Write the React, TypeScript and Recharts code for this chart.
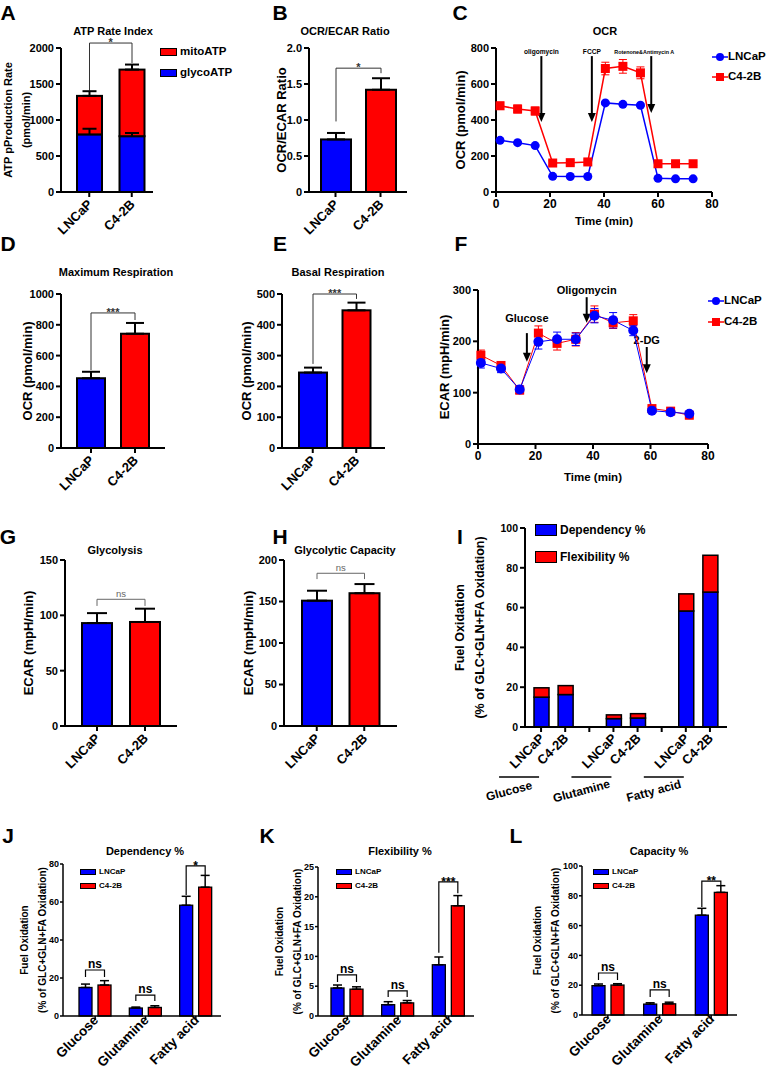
import React from 'react';
import { Bar, BarChart, Cell, ErrorBar, Legend, Line, LineChart, ReferenceLine, XAxis, YAxis } from 'recharts';

const BLUE = '#0000ff';
const RED = '#ff0000';
const FONT = '"Liberation Sans", Arial, Helvetica, sans-serif';
const AXIS = { stroke: '#000', strokeWidth: 2 };
const AXIS_THIN = { stroke: '#000', strokeWidth: 1.5 };
const YW = 80;
const TOP = 30;
const BAR_GAP = 6;

// ---- data ----
const cellLines = ['LNCaP', 'C4-2B'];

// A: ATP rate index (pmol/min)
const glycoATP = [800, 775];
const glycoATPErr = [80, 45];
const mitoATP = [535, 925];
const totalATPErr = [65, 70];
const ticksATP = [0, 500, 1000, 1500, 2000];

// B: OCR/ECAR
const ocrEcar = [0.73, 1.42];
const ocrEcarErr = [0.09, 0.16];
const ticksRatio = [0, 0.5, 1, 1.5, 2];

// D, E
const maxResp = [453, 742];
const maxRespErr = [42, 70];
const ticksMax = [0, 200, 400, 600, 800, 1000];
const basalResp = [245, 447];
const basalRespErr = [16, 25];
const ticksBasal = [0, 100, 200, 300, 400, 500];

// G, H
const glycolysis = [93, 94];
const glycolysisErr = [9, 12];
const ticksGlycolysis = [0, 50, 100, 150];
const glycoCap = [151, 160];
const glycoCapErr = [12, 11];
const ticksGlycoCap = [0, 50, 100, 150, 200];

// C: OCR time course
const ocrTime = [1.5, 8, 14.5, 21, 27.5, 34, 40.5, 47, 53.5, 60, 66.5, 73];
const ocrLNCaP = [287, 274, 258, 87, 86, 86, 495, 487, 482, 76, 73, 73];
const ocrLNCaPErr = [6, 6, 6, 4, 4, 4, 6, 6, 6, 3, 3, 3];
const ocrC42B = [479, 461, 450, 161, 163, 167, 686, 698, 662, 157, 157, 157];
const ocrC42BErr = [20, 22, 22, 12, 12, 12, 35, 38, 33, 10, 10, 10];
const ticksOCR = [0, 200, 400, 600, 800];
const ocrInjections = ['oligomycin', 'FCCP', 'Rotenone&Antimycin A'];
const ocrInjectionTimes = [16.8, 35.5, 57.5];

// F: ECAR time course
const ecarTime = [1, 8, 14.5, 21, 27.5, 34, 40.5, 47, 54, 60.5, 67, 73.5];
const ecarLNCaP = [158, 147, 106, 199, 204, 204, 250, 241, 221, 65, 62, 59];
const ecarLNCaPErr = [10, 8, 8, 14, 14, 12, 14, 15, 10, 4, 4, 4];
const ecarC42B = [173, 153, 105, 216, 196, 204, 253, 236, 240, 69, 64, 56];
const ecarC42BErr = [10, 7, 7, 14, 13, 13, 16, 11, 12, 4, 4, 4];
const ticksECAR = [0, 100, 200, 300];
const ecarInjections = ['Glucose', 'Oligomycin', '2-DG'];
const ecarInjectionTimes = [17, 37.8, 58.7];
const ticksTime = [0, 20, 40, 60, 80];

// I-L: fuel oxidation (% of GLC+GLN+FA oxidation)
const fuels = ['Glucose', 'Glutamine', 'Fatty acid'];
const depLNCaP = [15, 4.2, 58.3];
const depLNCaPErr = [1.8, 0.5, 4.7];
const depC42B = [16.3, 4.5, 67.8];
const depC42BErr = [2.3, 0.9, 6.2];
const flexLNCaP = [4.7, 1.9, 8.6];
const flexLNCaPErr = [0.5, 0.5, 1.3];
const flexC42B = [4.5, 2.2, 18.5];
const flexC42BErr = [0.4, 0.4, 1.7];
const capLNCaP = [19.7, 7.3, 67];
const capLNCaPErr = [1.1, 0.9, 4.6];
const capC42B = [20.1, 7.5, 82.3];
const capC42BErr = [0.9, 1.1, 4.5];
const depSig = ['ns', 'ns', '*'];
const flexSig = ['ns', 'ns', '***'];
const capSig = ['ns', 'ns', '**'];
const ticksFuelStack = [0, 20, 40, 60, 80, 100];
const ticksDep = [0, 20, 40, 60, 80];
const ticksFlex = [0, 5, 10, 15, 20, 25];
const ticksCap = [0, 20, 40, 60, 80, 100];

// stacked rows for panel I (gap slot between fuels)
const fuelRows = fuels.flatMap((fuel, i) => {
  const rows: any[] = [
    { key: fuel + '-L', cell: cellLines[0], group: fuel, dep: depLNCaP[i], flex: flexLNCaP[i] },
    { key: fuel + '-C', cell: cellLines[1], group: '', dep: depC42B[i], flex: flexC42B[i] },
  ];
  if (i < fuels.length - 1) rows.push({ key: 'gap' + i, cell: '', group: '', dep: null, flex: null });
  return rows;
});

type Geo = { x0: number; y0: number; x1: number; y1: number; padL?: number; padR?: number; bar?: number };

function frame(g: Geo, right: number, bottom: number) {
  return {
    left: g.x0 - YW,
    top: g.y0 - TOP,
    width: g.x1 - g.x0 + YW + right,
    height: g.y1 - g.y0 + TOP + bottom,
  };
}

function Txt({ x, y, size, weight = 700, children }: any) {
  return (
    <div
      style={{
        position: 'absolute', left: x, top: y, transform: 'translate(-50%, -50%)',
        fontFamily: FONT, fontSize: size, fontWeight: weight, whiteSpace: 'nowrap', lineHeight: 1.2, color: '#000',
      }}
    >
      {children}
    </div>
  );
}

const yTick = (size: number) => ({ fill: '#000', fontSize: size, fontWeight: 700, fontFamily: FONT });

function SlantTick(p: any) {
  const { x, y, payload, size = 13, dx = 4, dy = 6 } = p;
  const tx = x + dx;
  const ty = y + dy;
  return (
    <text x={tx} y={ty} transform={`rotate(-45 ${tx} ${ty})`} textAnchor="end"
      fontFamily={FONT} fontSize={size} fontWeight={700} fill="#000">
      {payload.value}
    </text>
  );
}

function FuelTick(p: any) {
  const { x, y, payload } = p;
  const row = fuelRows.find((r) => r.key === payload.value);
  if (!row || !row.cell) return <g />;
  const tx = x + 4;
  const ty = y + 5;
  const gx = x - 32;
  const gy = y + 57;
  return (
    <g>
      <text x={tx} y={ty} transform={`rotate(-45 ${tx} ${ty})`} textAnchor="end"
        fontFamily={FONT} fontSize={13} fontWeight={700} fill="#000">{row.cell}</text>
      {row.group ? (
        <g>
          <line x1={x - 42} x2={x - 2} y1={y + 43} y2={y + 43} stroke="#000" strokeWidth={1.5} />
          <text x={gx} y={gy} transform={`rotate(-15 ${gx} ${gy})`} textAnchor="middle" dominantBaseline="central"
            fontFamily={FONT} fontSize={12} fontWeight={700} fill="#000">{row.group}</text>
        </g>
      ) : null}
    </g>
  );
}

function yTitle(lines: string[], offs: number[], size: number, plotH: number) {
  return () => {
    const cy = TOP + plotH / 2;
    return (
      <g>
        {lines.map((t, i) => (
          <text key={t} x={YW - offs[i]} y={cy} transform={`rotate(-90 ${YW - offs[i]} ${cy})`}
            textAnchor="middle" dominantBaseline="central" fontFamily={FONT} fontSize={size} fontWeight={700} fill="#000">
            {t}
          </text>
        ))}
      </g>
    );
  };
}

function drawBracket(xl: number, xr: number, yOf: (v: number) => number, b: any, st: any) {
  const yt = yOf(b.top);
  const stars = b.text.indexOf('*') >= 0;
  return (
    <g>
      <path d={`M${xl},${yOf(b.left)}V${yt}H${xr}V${yOf(b.right)}`} fill="none" stroke={st.color} strokeWidth={st.width} />
      <text x={(xl + xr) / 2} y={stars ? yt + st.size * 0.3 : yt - 2} textAnchor="middle"
        fontFamily={FONT} fontSize={st.size} fontWeight={st.weight} fill={st.color}>{b.text}</text>
    </g>
  );
}

function boxLegend(x: number, y: number, f: any, items: string[][], o: any) {
  return (
    <Legend
      layout="horizontal"
      verticalAlign="middle"
      align="center"
      wrapperStyle={{ left: x - f.left, top: y - f.top - o.gap / 2, width: 'auto', height: 'auto' }}
      content={(p: any) => (
        <div>
          {items.map(([name, fallback]) => {
            const e = (p.payload || []).find((it: any) => it.value === name);
            return (
              <div key={name} style={{ display: 'flex', alignItems: 'center', height: o.gap, fontFamily: FONT, fontSize: o.size, fontWeight: 700, whiteSpace: 'nowrap', lineHeight: 1, color: '#000' }}>
                <span style={{ display: 'inline-block', width: o.bw, height: o.bh, background: e ? e.color : fallback, border: `${o.bd}px solid #000`, boxSizing: 'border-box', marginRight: 3 }} />
                {name}
              </div>
            );
          })}
        </div>
      )}
    />
  );
}

function lineLegend(x: number, y: number, f: any, gap: number) {
  return (
    <Legend
      layout="horizontal"
      verticalAlign="middle"
      align="center"
      wrapperStyle={{ left: x - f.left, top: y - f.top - gap / 2, width: 'auto', height: 'auto' }}
      content={(p: any) => (
        <div>
          {cellLines.map((name, i) => {
            const e = (p.payload || []).find((it: any) => it.value === name);
            const c = e ? e.color : i === 0 ? BLUE : RED;
            return (
              <div key={name} style={{ display: 'flex', alignItems: 'center', height: gap, fontFamily: FONT, fontSize: 11.5, fontWeight: 700, whiteSpace: 'nowrap', lineHeight: 1, color: '#000' }}>
                <svg width={16} height={10} style={{ marginRight: 0 }}>
                  <line x1={0} x2={16} y1={5} y2={5} stroke={c} strokeWidth={1.5} />
                  {i === 0 ? <circle cx={8} cy={5} r={4} fill={c} /> : <rect x={4} y={1} width={8} height={8} fill={c} />}
                </svg>
                {name}
              </div>
            );
          })}
        </div>
      )}
    />
  );
}

function TwoBarPanel({ g, values, errors, ticks, fmt, brk, st, yLines, yOffs, ySize, capW }: any) {
  const f = frame(g, 12, 60);
  const plotH = g.y1 - g.y0;
  const data = cellLines.map((name, i) => ({ name, value: values[i], err: [0, errors[i]] }));
  const pitch = (g.x1 - g.x0 - g.padL - g.padR) / 2;
  const shape = (p: any) => {
    if (!(p.height > 0)) return <g />;
    const ppu = p.height / p.payload.value;
    const zero = p.y + p.height;
    const cx = p.x + p.width / 2;
    return (
      <g>
        <rect x={p.x} y={p.y} width={p.width} height={p.height} fill={p.fill} stroke="#000" strokeWidth={2} />
        {p.payload.name === cellLines[1] ? drawBracket(cx - pitch, cx, (v) => zero - v * ppu, brk, st) : null}
      </g>
    );
  };
  return (
    <div style={{ position: 'absolute', left: f.left, top: f.top }}>
      <BarChart width={f.width} height={f.height} data={data} barSize={g.bar} margin={{ top: TOP, right: 12, bottom: 0, left: 0 }}>
        <XAxis dataKey="name" height={60} interval={0} padding={{ left: g.padL, right: g.padR }}
          axisLine={AXIS} tickLine={AXIS} tickSize={5} tick={<SlantTick size={13} />} />
        <YAxis width={YW} type="number" domain={[0, ticks[ticks.length - 1]]} ticks={ticks} tickFormatter={fmt}
          axisLine={AXIS} tickLine={AXIS} tickSize={5} tick={yTick(11)} label={yTitle(yLines, yOffs, ySize, plotH)} />
        <Bar dataKey="value" isAnimationActive={false} shape={shape}>
          {data.map((d, i) => <Cell key={d.name} fill={i === 0 ? BLUE : RED} />)}
          <ErrorBar dataKey="err" width={capW} stroke="#000" strokeWidth={2} direction="y" />
        </Bar>
      </BarChart>
    </div>
  );
}

const brkStyle = { color: '#333', width: 1, size: 11, weight: 700 };
const nsStyle = { color: '#666', width: 1, size: 9.5, weight: 400 };

function AtpPanel() {
  const g = { x0: 61, y0: 48, x1: 153, y1: 192, padL: 7, padR: 0, bar: 25 };
  const f = frame(g, 12, 60);
  const plotH = g.y1 - g.y0;
  const data = cellLines.map((name, i) => ({
    name, glyco: glycoATP[i], mito: mitoATP[i], glycoErr: glycoATPErr[i], err: [0, totalATPErr[i]],
  }));
  const pitch = (g.x1 - g.x0 - g.padL - g.padR) / 2;
  const glycoShape = (p: any) =>
    p.height > 0 ? <rect x={p.x} y={p.y} width={p.width} height={p.height} fill={p.fill} stroke="#000" strokeWidth={2} /> : <g />;
  const mitoShape = (p: any) => {
    if (!(p.height > 0)) return <g />;
    const ppu = p.height / p.payload.mito;
    const base = p.y + p.height;
    const zero = base + p.payload.glyco * ppu;
    const yOf = (v: number) => zero - v * ppu;
    const cx = p.x + p.width / 2;
    const ge = yOf(p.payload.glyco + p.payload.glycoErr);
    return (
      <g>
        <rect x={p.x} y={p.y} width={p.width} height={p.height} fill={p.fill} stroke="#000" strokeWidth={2} />
        <path d={`M${cx},${base}V${ge}M${cx - 7},${ge}H${cx + 7}`} stroke="#000" strokeWidth={2} fill="none" />
        {p.payload.name === cellLines[1]
          ? drawBracket(cx - pitch, cx, yOf, { left: 1407, right: 1792, top: 2069, text: '*' }, brkStyle)
          : null}
      </g>
    );
  };
  return (
    <div style={{ position: 'absolute', left: f.left, top: f.top }}>
      <BarChart width={f.width} height={f.height} data={data} barSize={g.bar} margin={{ top: TOP, right: 12, bottom: 0, left: 0 }}>
        <XAxis dataKey="name" height={60} interval={0} padding={{ left: g.padL, right: g.padR }}
          axisLine={AXIS} tickLine={AXIS} tickSize={5} tick={<SlantTick size={13} />} />
        <YAxis width={YW} type="number" domain={[0, 2000]} ticks={ticksATP} axisLine={AXIS} tickLine={AXIS} tickSize={5}
          tick={yTick(11)} label={yTitle(['ATP pProduction Rate', '(pmol/min)'], [53, 35], 11, plotH)} />
        <Bar dataKey="glyco" name="glycoATP" stackId="s" fill={BLUE} isAnimationActive={false} shape={glycoShape} />
        <Bar dataKey="mito" name="mitoATP" stackId="s" fill={RED} isAnimationActive={false} shape={mitoShape}>
          <ErrorBar dataKey="err" width={7} stroke="#000" strokeWidth={2} direction="y" />
        </Bar>
        {boxLegend(160, 52, f, [['mitoATP', RED], ['glycoATP', BLUE]], { gap: 21, size: 11.5, bw: 17, bh: 8, bd: 1.5 })}
      </BarChart>
    </div>
  );
}

function Arrow(p: any) {
  const { x1, y1, y2, text, size, dx = 0, gap = 2, head = 9, hw = 4 } = p;
  const top = Math.min(y1, y2);
  const bot = Math.max(y1, y2);
  return (
    <g>
      <line x1={x1} y1={top} x2={x1} y2={bot - head + 1} stroke="#000" strokeWidth={2} />
      <polygon points={`${x1 - hw},${bot - head} ${x1 + hw},${bot - head} ${x1},${bot}`} fill="#000" />
      <text x={x1 + dx} y={top - gap} textAnchor="middle" fontFamily={FONT} fontSize={size} fontWeight={700} fill="#000">{text}</text>
    </g>
  );
}

function TimePanel({ g, times, lnc, lncErr, c42, c42Err, ticks, arrows, yTitleText, yOff, legendY, legendGap, xLabelDy, lineW, dotR, sq, capW }: any) {
  const f = frame(g, 767 - g.x1, 50);
  const plotH = g.y1 - g.y0;
  const plotW = g.x1 - g.x0;
  const data = times.map((t: number, i: number) => ({ t, lnc: lnc[i], lncErr: lncErr[i], c42: c42[i], c42Err: c42Err[i] }));
  const xTitle = () => (
    <text x={YW + plotW / 2} y={TOP + plotH + xLabelDy} textAnchor="middle" dominantBaseline="central"
      fontFamily={FONT} fontSize={11.5} fontWeight={700} fill="#000">Time (min)</text>
  );
  return (
    <div style={{ position: 'absolute', left: f.left, top: f.top }}>
      <LineChart width={f.width} height={f.height} data={data} margin={{ top: TOP, right: 767 - g.x1, bottom: 0, left: 0 }}>
        <XAxis dataKey="t" type="number" domain={[0, 80]} ticks={ticksTime} height={50} axisLine={AXIS} tickLine={AXIS}
          tickSize={5} tick={yTick(12)} label={xTitle} />
        <YAxis width={YW} type="number" domain={[0, ticks[ticks.length - 1]]} ticks={ticks} axisLine={AXIS} tickLine={AXIS}
          tickSize={5} tick={yTick(11)} label={yTitle([yTitleText], [yOff], 13, plotH)} />
        {arrows.map((a: any) => (
          <ReferenceLine key={a.name} ifOverflow="visible" segment={[{ x: a.t, y: a.from }, { x: a.t, y: a.to }]}
            shape={(p: any) => <Arrow {...p} text={a.name} size={a.size} dx={a.dx} gap={a.gap} />} />
        ))}
        <Line dataKey="c42" name="C4-2B" stroke={RED} strokeWidth={lineW} isAnimationActive={false}
          dot={(p: any) => <rect key={'sq' + p.index} x={p.cx - sq} y={p.cy - sq} width={sq * 2} height={sq * 2} fill={RED} />}>
          <ErrorBar dataKey="c42Err" width={capW} stroke={RED} strokeWidth={1} direction="y" />
        </Line>
        <Line dataKey="lnc" name="LNCaP" stroke={BLUE} strokeWidth={lineW} isAnimationActive={false}
          dot={{ r: dotR, fill: BLUE, stroke: BLUE, strokeWidth: 0 }}>
          <ErrorBar dataKey="lncErr" width={capW} stroke={BLUE} strokeWidth={1} direction="y" />
        </Line>
        {lineLegend(g.x1, legendY, f, legendGap)}
      </LineChart>
    </div>
  );
}

function FuelStackPanel() {
  const g = { x0: 525, y0: 528, x1: 727, y1: 727, padL: 4, padR: 5, bar: 15 };
  const f = frame(g, 30, 95);
  const plotH = g.y1 - g.y0;
  const shape = (p: any) =>
    p.height > 0 ? <rect x={p.x} y={p.y} width={p.width} height={p.height} fill={p.fill} stroke="#000" strokeWidth={1.5} /> : <g />;
  return (
    <div style={{ position: 'absolute', left: f.left, top: f.top }}>
      <BarChart width={f.width} height={f.height} data={fuelRows} barSize={g.bar} margin={{ top: TOP, right: 30, bottom: 0, left: 0 }}>
        <XAxis dataKey="key" height={95} interval={0} padding={{ left: g.padL, right: g.padR }}
          axisLine={AXIS} tickLine={AXIS} tickSize={5} tick={<FuelTick />} />
        <YAxis width={YW} type="number" domain={[0, 100]} ticks={ticksFuelStack} axisLine={AXIS} tickLine={AXIS} tickSize={5}
          tick={yTick(10.5)} label={yTitle(['Fuel Oxidation', '(% of GLC+GLN+FA Oxidation)'], [65, 45], 12.5, plotH)} />
        <Bar dataKey="dep" name="Dependency %" stackId="s" fill={BLUE} isAnimationActive={false} shape={shape} />
        <Bar dataKey="flex" name="Flexibility %" stackId="s" fill={RED} isAnimationActive={false} shape={shape} />
        {boxLegend(535, 530, f, [['Dependency %', BLUE], ['Flexibility %', RED]], { gap: 27, size: 12, bw: 22, bh: 12, bd: 1.5 })}
      </BarChart>
    </div>
  );
}

const fuelBrkStyle = { color: '#000', width: 1.2, size: 12, weight: 700 };

function FuelPanel({ g, lnc, lncErr, c42, c42Err, sig, brks, ticks, yOffs, legendX }: any) {
  const f = frame(g, 12, 54);
  const plotH = g.y1 - g.y0;
  const data = fuels.map((name, i) => ({ name, lnc: lnc[i], lncErr: [0, lncErr[i]], c42: c42[i], c42Err: [0, c42Err[i]] }));
  const pitch = g.bar + BAR_GAP;
  const blueShape = (p: any) =>
    p.height > 0 ? <rect x={p.x} y={p.y} width={p.width} height={p.height} fill={p.fill} stroke="#000" strokeWidth={1.3} /> : <g />;
  const redShape = (p: any) => {
    if (!(p.height > 0)) return <g />;
    const i = fuels.indexOf(p.payload.name);
    const ppu = p.height / p.payload.c42;
    const zero = p.y + p.height;
    const cx = p.x + p.width / 2;
    return (
      <g>
        <rect x={p.x} y={p.y} width={p.width} height={p.height} fill={p.fill} stroke="#000" strokeWidth={1.3} />
        {drawBracket(cx - pitch, cx, (v) => zero - v * ppu, { ...brks[i], text: sig[i] }, fuelBrkStyle)}
      </g>
    );
  };
  return (
    <div style={{ position: 'absolute', left: f.left, top: f.top }}>
      <BarChart width={f.width} height={f.height} data={data} barSize={g.bar} barGap={BAR_GAP}
        margin={{ top: TOP, right: 12, bottom: 0, left: 0 }}>
        <XAxis dataKey="name" height={54} interval={0} padding={{ left: g.padL, right: g.padR }}
          axisLine={AXIS_THIN} tickLine={AXIS_THIN} tickSize={4} tick={<SlantTick size={13.5} dx={4} dy={-1} />} />
        <YAxis width={YW} type="number" domain={[0, ticks[ticks.length - 1]]} ticks={ticks} axisLine={AXIS_THIN} tickLine={AXIS_THIN}
          tickSize={3} tickMargin={1} tick={yTick(9)}
          label={yTitle(['Fuel Oxidation', '(% of GLC+GLN+FA Oxidation)'], yOffs, 10, plotH)} />
        <Bar dataKey="lnc" name="LNCaP" fill={BLUE} isAnimationActive={false} shape={blueShape}>
          <ErrorBar dataKey="lncErr" width={4.5} stroke="#000" strokeWidth={1.5} direction="y" />
        </Bar>
        <Bar dataKey="c42" name="C4-2B" fill={RED} isAnimationActive={false} shape={redShape}>
          <ErrorBar dataKey="c42Err" width={4.5} stroke="#000" strokeWidth={1.5} direction="y" />
        </Bar>
        {boxLegend(legendX, 872, f, [['LNCaP', BLUE], ['C4-2B', RED]], { gap: 14, size: 8, bw: 16, bh: 6, bd: 1 })}
      </BarChart>
    </div>
  );
}

const fmtRatio = (v: number) => (v === 0 ? '0' : v.toFixed(1));

export default function App() {
  return (
    <div style={{ position: 'absolute', left: 0, top: 0, width: 767, height: 1070, background: '#fff', overflow: 'hidden' }}>
      <AtpPanel />
      <TwoBarPanel g={{ x0: 309, y0: 48, x1: 407, y1: 192, padL: 4, padR: 4, bar: 30 }} values={ocrEcar} errors={ocrEcarErr}
        ticks={ticksRatio} fmt={fmtRatio} brk={{ left: 0.98, right: 1.65, top: 1.72, text: '*' }} st={brkStyle}
        yLines={['OCR/ECAR Ratio']} yOffs={[28]} ySize={13} capW={9} />
      <TimePanel g={{ x0: 496, y0: 48, x1: 712, y1: 192 }} times={ocrTime} lnc={ocrLNCaP} lncErr={ocrLNCaPErr} c42={ocrC42B}
        c42Err={ocrC42BErr} ticks={ticksOCR} yTitleText="OCR (pmol/min)" yOff={36} legendY={57} legendGap={20}
        xLabelDy={29} lineW={1.5} dotR={4.5} sq={4.5} capW={4}
        arrows={ocrInjections.map((name, i) => ({
          name, t: ocrInjectionTimes[i], from: 755, to: i === 2 ? 439 : 389, dx: i === 2 ? -7 : 0, gap: 2, size: i === 2 ? 5.4 : 6.6,
        }))} />
      <TwoBarPanel g={{ x0: 61, y0: 294, x1: 165, y1: 448, padL: 8, padR: 8, bar: 28 }} values={maxResp} errors={maxRespErr}
        ticks={ticksMax} brk={{ left: 506, right: 831, top: 877, text: '***' }} st={brkStyle}
        yLines={['OCR (pmol/min)']} yOffs={[34]} ySize={13} capW={9} />
      <TwoBarPanel g={{ x0: 282, y0: 294, x1: 385, y1: 448, padL: 9, padR: 7, bar: 28 }} values={basalResp} errors={basalRespErr}
        ticks={ticksBasal} brk={{ left: 273, right: 484, top: 500, text: '***' }} st={brkStyle}
        yLines={['OCR (pmol/min)']} yOffs={[36]} ySize={13} capW={9} />
      <TimePanel g={{ x0: 478, y0: 290, x1: 708, y1: 444 }} times={ecarTime} lnc={ecarLNCaP} lncErr={ecarLNCaPErr} c42={ecarC42B}
        c42Err={ecarC42BErr} ticks={ticksECAR} yTitleText="ECAR (mpH/min)" yOff={34} legendY={301} legendGap={21}
        xLabelDy={33} lineW={1} dotR={5} sq={4.5} capW={4}
        arrows={[
          { name: ecarInjections[0], t: ecarInjectionTimes[0], from: 216, to: 160, dx: 0, gap: 11, size: 11 },
          { name: ecarInjections[1], t: ecarInjectionTimes[1], from: 286, to: 236, dx: 0, gap: 3, size: 11 },
          { name: ecarInjections[2], t: ecarInjectionTimes[2], from: 189, to: 138, dx: 0, gap: 3, size: 11 },
        ]} />
      <TwoBarPanel g={{ x0: 65, y0: 560, x1: 177, y1: 726, padL: 8, padR: 8, bar: 30 }} values={glycolysis} errors={glycolysisErr}
        ticks={ticksGlycolysis} brk={{ left: 108.5, right: 108.5, top: 114.5, text: 'ns' }} st={nsStyle}
        yLines={['ECAR (mpH/min)']} yOffs={[37]} ySize={13} capW={10} />
      <TwoBarPanel g={{ x0: 284, y0: 560, x1: 397, y1: 726, padL: 9, padR: 9, bar: 30 }} values={glycoCap} errors={glycoCapErr}
        ticks={ticksGlycoCap} brk={{ left: 177, right: 177, top: 184, text: 'ns' }} st={nsStyle}
        yLines={['ECAR (mpH/min)']} yOffs={[36]} ySize={13} capW={10} />
      <FuelStackPanel />
      <FuelPanel g={{ x0: 63, y0: 864, x1: 221, y1: 1016, padL: 7, padR: 0, bar: 13 }} lnc={depLNCaP} lncErr={depLNCaPErr}
        c42={depC42B} c42Err={depC42BErr} sig={depSig} ticks={ticksDep} yOffs={[38.5, 20.5]} legendX={80}
        brks={[{ left: 20.5, right: 20.5, top: 24.2 }, { left: 7.9, right: 7.9, top: 11 }, { left: 63.7, right: 74.2, top: 79 }]} />
      <FuelPanel g={{ x0: 318, y0: 867, x1: 474, y1: 1016, padL: 4, padR: 0, bar: 13 }} lnc={flexLNCaP} lncErr={flexLNCaPErr}
        c42={flexC42B} c42Err={flexC42BErr} sig={flexSig} ticks={ticksFlex} yOffs={[38.5, 20.5]} legendX={336}
        brks={[{ left: 5.7, right: 5.7, top: 6.9 }, { left: 3.2, right: 3.2, top: 4.2 }, { left: 10.6, right: 20.6, top: 22.5 }]} />
      <FuelPanel g={{ x0: 582, y0: 866, x1: 737, y1: 1015, padL: 0, padR: 0, bar: 13 }} lnc={capLNCaP} lncErr={capLNCaPErr}
        c42={capC42B} c42Err={capC42BErr} sig={capSig} ticks={ticksCap} yOffs={[45, 27]} legendX={593}
        brks={[{ left: 23.5, right: 23.5, top: 28.2 }, { left: 12.1, right: 12.1, top: 16.8 }, { left: 72.5, right: 87.2, top: 89.9 }]} />

      <Txt x={8} y={13} size={21}>A</Txt>
      <Txt x={280} y={13} size={21}>B</Txt>
      <Txt x={460} y={13} size={21}>C</Txt>
      <Txt x={8} y={244} size={21}>D</Txt>
      <Txt x={280} y={244} size={21}>E</Txt>
      <Txt x={461} y={244} size={21}>F</Txt>
      <Txt x={8} y={537} size={21}>G</Txt>
      <Txt x={280} y={537} size={21}>H</Txt>
      <Txt x={460} y={537} size={21}>I</Txt>
      <Txt x={8} y={836} size={21}>J</Txt>
      <Txt x={267} y={836} size={21}>K</Txt>
      <Txt x={516} y={836} size={21}>L</Txt>

      <Txt x={113} y={32} size={11}>ATP Rate Index</Txt>
      <Txt x={345} y={32} size={11}>OCR/ECAR Ratio</Txt>
      <Txt x={605} y={32} size={11}>OCR</Txt>
      <Txt x={116} y={273} size={11}>Maximum Respiration</Txt>
      <Txt x={338} y={273} size={11}>Basal Respiration</Txt>
      <Txt x={115} y={551} size={11}>Glycolysis</Txt>
      <Txt x={345} y={551} size={11}>Glycolytic Capacity</Txt>
      <Txt x={145} y={852} size={11}>Dependency %</Txt>
      <Txt x={400} y={852} size={11}>Flexibility %</Txt>
      <Txt x={659} y={852} size={11}>Capacity %</Txt>
    </div>
  );
}
